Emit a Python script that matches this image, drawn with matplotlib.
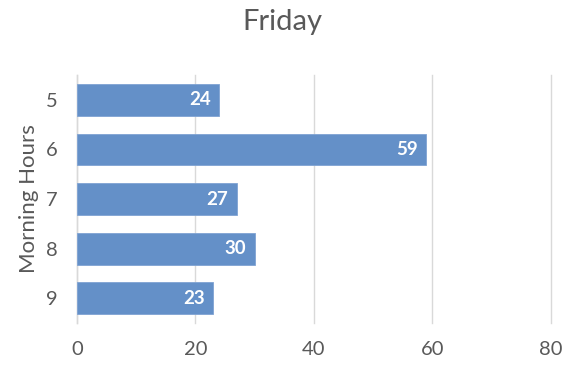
import matplotlib
matplotlib.use("Agg")
import matplotlib.pyplot as plt

hours = ["5", "6", "7", "8", "9"]
counts = [24, 59, 27, 30, 23]
x_ticks = [0, 20, 40, 60, 80]

plt.rcParams['font.family'] = ['Lato', 'DejaVu Sans']

fig = plt.figure(figsize=(5.65, 3.71), dpi=100)
ax = fig.add_axes([0.136, 0.129, 0.839, 0.669])

bar_color = "#6490C8"
grid_color = "#D9D9D9"
text_color = "#595959"

pos = list(range(len(hours)))
bars = ax.barh(pos, counts, height=0.64, color=bar_color,
               edgecolor="#7FA3D3", linewidth=0.6, zorder=3)

for p, v in zip(pos, counts):
    ax.annotate(str(v), xy=(v, p), xytext=(-6, 0), textcoords="offset points",
                ha="right", va="center", color="white", fontsize=13.5,
                fontweight="bold", zorder=4)

ax.set_xlim(0, 80)
ax.set_ylim(len(hours) - 0.5, -0.5)
ax.set_xticks(x_ticks)
ax.set_yticks(pos)
ax.set_yticklabels(hours)
ax.xaxis.grid(True, color=grid_color, linewidth=1, zorder=0)
for gl in ax.get_xgridlines():
    gl.set_clip_on(False)
ax.set_axisbelow(True)

for s in ["top", "right", "bottom"]:
    ax.spines[s].set_visible(False)
ax.spines["left"].set_color(grid_color)
ax.spines["left"].set_linewidth(1)

ax.tick_params(axis="both", length=0, labelsize=14.5, colors=text_color, pad=14)
ax.tick_params(axis="x", pad=13)

ax.set_ylabel("Morning Hours", fontsize=16, color=text_color, labelpad=5)
fig.suptitle("Friday", fontsize=21, color=text_color, y=0.975)

fig.savefig("out.png", dpi=100)
